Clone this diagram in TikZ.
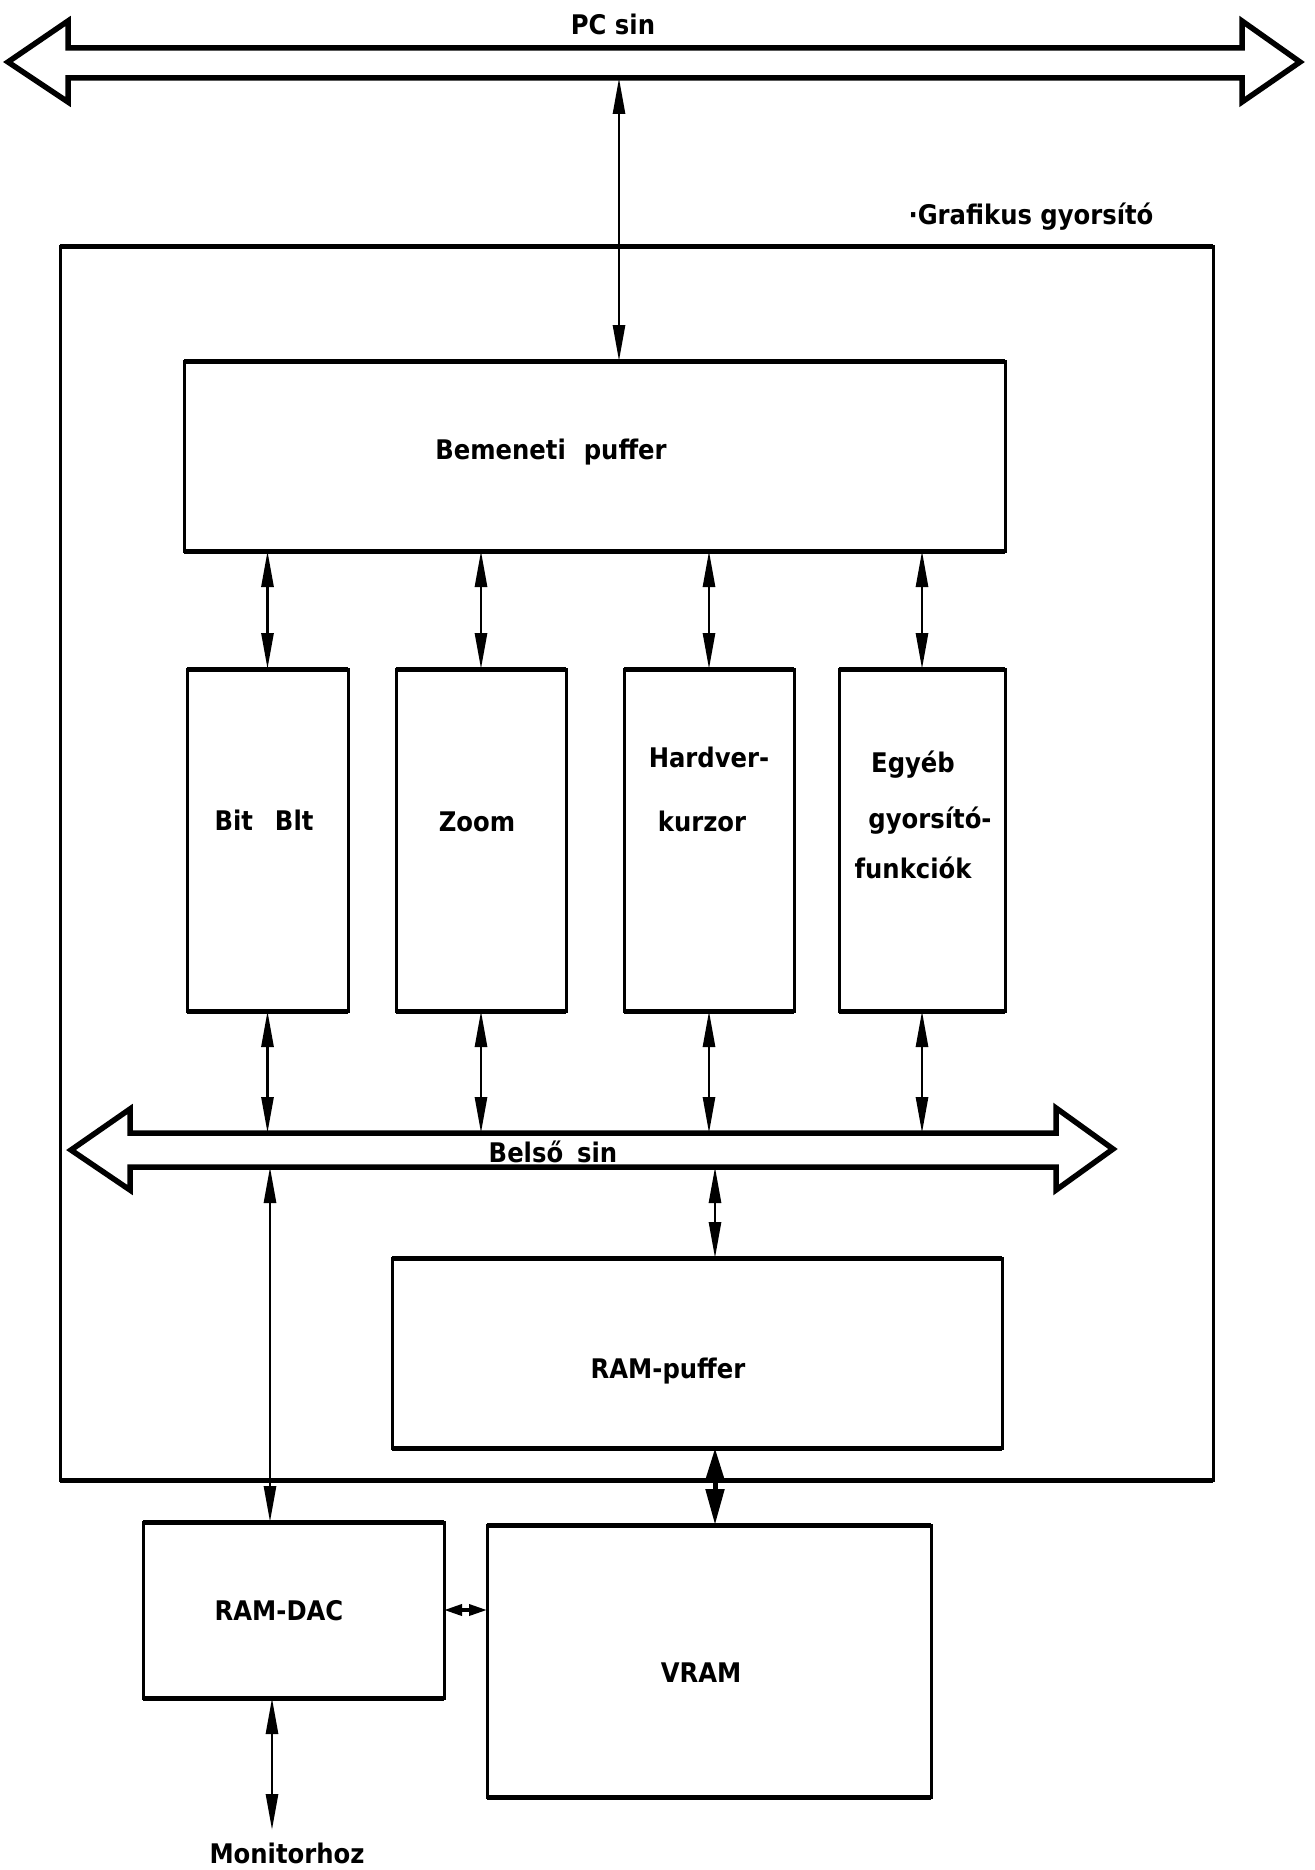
\documentclass[tikz,border=0pt]{standalone}
\usepackage{fontspec}
\setmainfont{DejaVu Sans Condensed}
\usetikzlibrary{arrows.meta}
\begin{document}
\begin{tikzpicture}[x=1pt,y=-1pt,
  box/.style={draw, line width=3pt, outer sep=0pt, inner sep=0pt},
  lab/.style={font=\fontsize{27}{33}\selectfont\bfseries, inner sep=0pt, anchor=base},
  bi/.style={line width=2.8pt, {Triangle[length=36pt,width=12pt]}-{Triangle[length=36pt,width=12pt]}},
  bithick/.style={line width=5pt, {Triangle[length=32pt,width=18pt]}-{Triangle[length=36pt,width=18pt]}},
  bismall/.style={line width=3.5pt, {Triangle[length=18pt,width=11pt]}-{Triangle[length=18pt,width=11pt]}},
  bus/.style={line width=5.5pt, line join=miter}
]
\useasboundingbox (0,0) rectangle (1314,1870);

% PC bus
\draw[bus] (68,48) -- (1242,48) -- (1242,21) -- (1300,62) -- (1242,102) -- (1242,78)
  -- (68,78) -- (68,102) -- (8,62) -- (68,21) -- cycle;
\node[lab] (pcl) at (613,35) {PC sin};
\coordinate (pcB) at (619,78);

% outer box
\node[box, minimum width=1153pt, minimum height=1233pt] (outer) at (636.5,863.5) {};
\node[lab] (grafl) at (1031,225) {·Grafikus gyorsító};

% input buffer
\node[box, minimum width=821pt, minimum height=190pt] (bem) at (594.5,456) {};
\node[lab] (bemt) at (551,459) {Bemeneti\hspace{18pt}puffer};

% function boxes
\node[box, minimum width=161pt, minimum height=342pt] (bitblt) at (267.5,840) {};
\node[box, minimum width=170pt, minimum height=342pt] (zoom) at (481,840) {};
\node[box, minimum width=170pt, minimum height=342pt] (hard) at (709,840) {};
\node[box, minimum width=166pt, minimum height=342pt] (egyeb) at (922,840) {};
\node[lab] (bitbltt) at (264,830) {Bit\hspace{22pt}Blt};
\node[lab] (zoomt) at (477,831) {Zoom};
\node[lab] (hardt1) at (709,767) {Hardver-};
\node[lab] (hardt2) at (702,831) {kurzor};
\node[lab] (egyebt1) at (913,772) {Egyéb};
\node[lab] (egyebt2) at (930,828) {gyorsító-};
\node[lab] (egyebt3) at (913,878) {funkciók};

% internal bus
\draw[bus] (130,1133) -- (1056,1133) -- (1056,1108) -- (1113,1149) -- (1056,1190) -- (1056,1167)
  -- (130,1167) -- (130,1190) -- (71,1150) -- (130,1109) -- cycle;
\node[lab] (belsol) at (553,1162) {Belső\hspace{14pt}sin};
\coordinate (bsT) at (0,1133);
\coordinate (bsB) at (0,1167);

% RAM buffer
\node[box, minimum width=610pt, minimum height=190pt] (rampuf) at (697,1353) {};
\node[lab] (rampuft) at (668,1378) {RAM-puffer};

% lower boxes
\node[box, minimum width=301pt, minimum height=176pt] (ramdac) at (293.5,1610) {};
\node[lab] (ramdact) at (279,1620) {RAM-DAC};
\node[box, minimum width=444pt, minimum height=272pt] (vram) at (709,1661) {};
\node[lab] (vramt) at (701,1682) {VRAM};
\node[lab] (mont) at (287,1863) {Monitorhoz};

% thicker horizontal edges
\foreach \n in {outer,bem,bitblt,zoom,hard,egyeb,rampuf,ramdac,vram}
  \draw[line width=5pt] (\n.north west) -- (\n.north east) (\n.south west) -- (\n.south east);

% connectors
\draw[bi] (pcB) -- (pcB |- bem.north);
\foreach \n in {bitblt,zoom,hard,egyeb}{
  \draw[bi] (\n.north) -- (\n.north |- bem.south);
  \draw[bi] (\n.south) -- (\n.south |- bsT);
}
\coordinate (dacIn) at (270,1167);
\coordinate (rpIn) at (715,1167);
\draw[bi] (dacIn) -- (dacIn |- ramdac.north);
\draw[bi] (rpIn) -- (rpIn |- rampuf.north);
\draw[bithick] (rampuf.south -| rpIn) -- (vram.north -| rpIn);
\draw[bismall] (ramdac.east) -- (ramdac.east -| vram.west);
\coordinate (monOut) at (272,1830);
\draw[bi] (monOut |- ramdac.south) -- (monOut);
\end{tikzpicture}
\end{document}
